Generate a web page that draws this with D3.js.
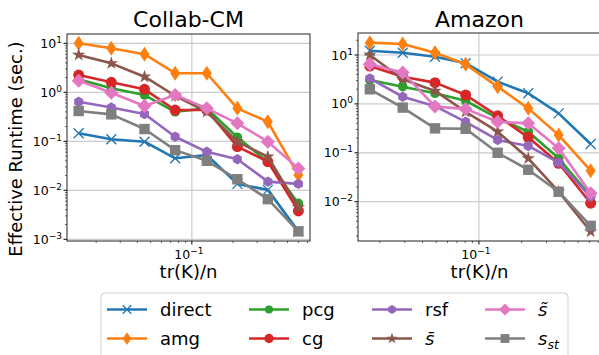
<!DOCTYPE html>
<html lang="en">
	<head>
		<meta charset="UTF-8" />
		<title>Effective runtime</title>
		<style>
			html,
			body {
				margin: 0;
				padding: 0;
				background: #fff;
				overflow: hidden;
			}
			svg {
				font-family: 'DejaVu Sans', sans-serif;
			}
		</style>
	</head>
	<body>
		<svg id="chart" width="599" height="355"></svg>

		<script src="https://d3js.org/d3.v7.min.js"></script>

		<script>
			// values
			const methods = ['direct', 'amg', 'pcg', 'cg', 'rsf', 'sbar', 'stilde', 'sst'];

			const collabX = [0.0149, 0.0258, 0.0451, 0.0755, 0.1286, 0.215, 0.359, 0.6];
			const collabDirect = [0.146, 0.11, 0.098, 0.045, 0.0525, 0.0135, 0.0102, 0.00145];
			const collabAmg = [10, 7.9, 6.0, 2.45, 2.45, 0.47, 0.25, 0.0205];
			const collabPcg = [1.84, 1.21, 0.88, 0.4, 0.47, 0.121, 0.038, 0.0054];
			const collabCg = [2.25, 1.6, 1.15, 0.435, 0.435, 0.078, 0.0384, 0.0038];
			const collabRsf = [0.64, 0.49, 0.36, 0.124, 0.061, 0.043, 0.015, 0.0135];
			const collabSbar = [5.8, 3.9, 2.08, 0.85, 0.4, 0.098, 0.0485, 0.0045];
			const collabStilde = [1.73, 0.98, 0.525, 0.88, 0.47, 0.233, 0.098, 0.028];
			const collabSst = [0.415, 0.355, 0.178, 0.066, 0.04, 0.0168, 0.0066, 0.00145];

			const amazonX = [0.017, 0.029, 0.049, 0.0806, 0.1355, 0.2228, 0.365, 0.614];
			const amazonDirect = [12.2, 11.1, 9.2, 6.8, 2.85, 1.65, 0.64, 0.151];
			const amazonAmg = [17.9, 16.8, 11.1, 6.45, 2.25, 0.81, 0.23, 0.043];
			const amazonPcg = [3.08, 2.25, 1.65, 1.16, 0.51, 0.27, 0.077, 0.013];
			const amazonCg = [5.96, 3.6, 2.72, 1.52, 0.57, 0.207, 0.061, 0.0093];
			const amazonRsf = [3.33, 1.4, 0.9, 0.43, 0.183, 0.138, 0.063, 0.0126];
			const amazonSbar = [10, 3.2, 1.84, 0.69, 0.27, 0.077, 0.016, 0.00245];
			const amazonStilde = [6.45, 4.4, 0.88, 0.79, 0.43, 0.4, 0.124, 0.0148];
			const amazonSst = [1.99, 0.84, 0.316, 0.31, 0.1, 0.045, 0.016, 0.0032];

			const colors = {
				direct: '#1f77b4',
				amg: '#ff7f0e',
				pcg: '#2ca02c',
				cg: '#d62728',
				rsf: '#9467bd',
				sbar: '#8c564b',
				stilde: '#e377c2',
				sst: '#7f7f7f'
			};

			const svg = d3.select('#chart');

			// marker shapes, centred on 0,0
			function drawMarker(g, m, color, s = 1) {
				if (m === 'direct') {
					const r = 5 * s;
					g.append('path')
						.attr('d', `M${-r},${-r}L${r},${r}M${-r},${r}L${r},${-r}`)
						.attr('stroke', color)
						.attr('stroke-width', 1.3)
						.attr('fill', 'none');
				} else if (m === 'amg') {
					const w = 5 * s,
						h = 7.5 * s;
					g.append('path').attr('d', `M0,${-h}L${w},0L0,${h}L${-w},0Z`).attr('fill', color);
				} else if (m === 'pcg') {
					g.append('circle').attr('r', 4.8 * s).attr('fill', color);
				} else if (m === 'cg') {
					g.append('circle').attr('r', 5.5 * s).attr('fill', color);
				} else if (m === 'rsf') {
					const r = 5.2 * s;
					const pts = d3.range(6).map((i) => {
						const a = (Math.PI / 3) * i - Math.PI / 2;
						return [r * Math.cos(a), r * Math.sin(a)];
					});
					g.append('path').attr('d', 'M' + pts.join('L') + 'Z').attr('fill', color);
				} else if (m === 'sbar') {
					g.append('path')
						.attr('d', d3.symbol(d3.symbolStar, 55 * s * s)())
						.attr('fill', color);
				} else if (m === 'stilde') {
					const r = 7 * s;
					g.append('path').attr('d', `M0,${-r}L${r},0L0,${r}L${-r},0Z`).attr('fill', color);
				} else if (m === 'sst') {
					const r = 5.2 * s;
					g.append('rect')
						.attr('x', -r)
						.attr('y', -r)
						.attr('width', 2 * r)
						.attr('height', 2 * r)
						.attr('fill', color);
				}
			}

			function powLabel(text, exp, x, y, anchor) {
				const t = svg
					.append('text')
					.attr('x', x)
					.attr('y', y)
					.attr('text-anchor', anchor)
					.attr('font-size', 12.5)
					.attr('fill', '#000');
				t.append('tspan').text('10');
				t.append('tspan')
					.attr('font-size', 9)
					.attr('dy', -5)
					.text(exp < 0 ? '\u2212' + -exp : String(exp));
			}

			function drawPanel(p) {
				const x = d3.scaleLog().domain(p.xDomain).range([p.left, p.right]);
				const y = d3.scaleLog().domain(p.yDomain).range([p.bottom, p.top]);
				const g = svg.append('g');

				const xDec = d3.range(Math.floor(Math.log10(p.xDomain[0])), Math.ceil(Math.log10(p.xDomain[1])) + 1);
				const yDec = d3.range(Math.floor(Math.log10(p.yDomain[0])), Math.ceil(Math.log10(p.yDomain[1])) + 1);
				const inX = (v) => v >= p.xDomain[0] && v <= p.xDomain[1];
				const inY = (v) => v >= p.yDomain[0] && v <= p.yDomain[1];

				const xMajor = xDec.map((d) => Math.pow(10, d)).filter(inX);
				const yMajor = yDec.map((d) => Math.pow(10, d)).filter(inY);
				const xMinor = [];
				xDec.forEach((d) => d3.range(2, 10).forEach((m) => xMinor.push(m * Math.pow(10, d))));
				const yMinor = [];
				yDec.forEach((d) => d3.range(2, 10).forEach((m) => yMinor.push(m * Math.pow(10, d))));

				// grid
				g.selectAll('.gx')
					.data(xMajor)
					.join('line')
					.attr('x1', (d) => x(d))
					.attr('x2', (d) => x(d))
					.attr('y1', p.top)
					.attr('y2', p.bottom)
					.attr('stroke', '#cccccc')
					.attr('stroke-width', 1.2);
				g.selectAll('.gy')
					.data(yMajor)
					.join('line')
					.attr('x1', p.left)
					.attr('x2', p.right)
					.attr('y1', (d) => y(d))
					.attr('y2', (d) => y(d))
					.attr('stroke', '#cccccc')
					.attr('stroke-width', 1.2);

				// series
				const line = d3
					.line()
					.x((d) => x(d[0]))
					.y((d) => y(d[1]));
				methods.forEach((m) => {
					const pts = p.x.map((xv, i) => [xv, p.series[m][i]]);
					g.append('path')
						.attr('d', line(pts))
						.attr('fill', 'none')
						.attr('stroke', colors[m])
						.attr('stroke-width', 2.6)
						.attr('stroke-linejoin', 'round');
					pts.forEach((d) => {
						const mg = g.append('g').attr('transform', `translate(${x(d[0])},${y(d[1])})`);
						drawMarker(mg, m, colors[m]);
					});
				});

				// ticks
				g.selectAll('.tx')
					.data(xMajor)
					.join('line')
					.attr('x1', (d) => x(d))
					.attr('x2', (d) => x(d))
					.attr('y1', p.bottom)
					.attr('y2', p.bottom + 3.5)
					.attr('stroke', '#000');
				g.selectAll('.mx')
					.data(xMinor.filter(inX))
					.join('line')
					.attr('x1', (d) => x(d))
					.attr('x2', (d) => x(d))
					.attr('y1', p.bottom)
					.attr('y2', p.bottom + 2)
					.attr('stroke', '#000')
					.attr('stroke-width', 0.6);
				g.selectAll('.ty')
					.data(yMajor)
					.join('line')
					.attr('x1', p.left - 3.5)
					.attr('x2', p.left)
					.attr('y1', (d) => y(d))
					.attr('y2', (d) => y(d))
					.attr('stroke', '#000');
				g.selectAll('.my')
					.data(yMinor.filter(inY))
					.join('line')
					.attr('x1', p.left - 2)
					.attr('x2', p.left)
					.attr('y1', (d) => y(d))
					.attr('y2', (d) => y(d))
					.attr('stroke', '#000')
					.attr('stroke-width', 0.6);

				// frame
				g.append('rect')
					.attr('x', p.left)
					.attr('y', p.top)
					.attr('width', p.right - p.left)
					.attr('height', p.bottom - p.top)
					.attr('fill', 'none')
					.attr('stroke', '#222')
					.attr('stroke-width', 1);

				xMajor.forEach((v) => powLabel(v, Math.round(Math.log10(v)), x(v) - 3, p.bottom + 18, 'middle'));
				yMajor.forEach((v) => powLabel(v, Math.round(Math.log10(v)), p.left - 5, y(v) + 4.5, 'end'));

				svg.append('text')
					.attr('x', (p.left + p.right) / 2)
					.attr('y', 27)
					.attr('text-anchor', 'middle')
					.attr('font-size', 22)
					.text(p.title);
				svg.append('text')
					.attr('x', (p.left + p.right) / 2)
					.attr('y', 278)
					.attr('text-anchor', 'middle')
					.attr('font-size', 18)
					.text('tr(K)/n');
			}

			drawPanel({
				title: 'Collab-CM',
				left: 67,
				right: 310,
				top: 34,
				bottom: 241,
				xDomain: [Math.pow(10, -1.912), Math.pow(10, -0.137)],
				yDomain: [Math.pow(10, -3.035), Math.pow(10, 1.19)],
				x: collabX,
				series: {
					direct: collabDirect,
					amg: collabAmg,
					pcg: collabPcg,
					cg: collabCg,
					rsf: collabRsf,
					sbar: collabSbar,
					stilde: collabStilde,
					sst: collabSst
				}
			});

			drawPanel({
				title: 'Amazon',
				left: 358,
				right: 601,
				top: 33,
				bottom: 241,
				xDomain: [Math.pow(10, -1.853), Math.pow(10, -0.139)],
				yDomain: [Math.pow(10, -2.804), Math.pow(10, 1.45)],
				x: amazonX,
				series: {
					direct: amazonDirect,
					amg: amazonAmg,
					pcg: amazonPcg,
					cg: amazonCg,
					rsf: amazonRsf,
					sbar: amazonSbar,
					stilde: amazonStilde,
					sst: amazonSst
				}
			});

			svg.append('text')
				.attr('transform', 'translate(22,149) rotate(-90)')
				.attr('text-anchor', 'middle')
				.attr('font-size', 18)
				.text('Effective Runtime (sec.)');

			// legend
			const legend = svg.append('g');
			legend
				.append('rect')
				.attr('x', 101)
				.attr('y', 293)
				.attr('width', 467)
				.attr('height', 70)
				.attr('rx', 4)
				.attr('fill', '#fff')
				.attr('stroke', '#d0d0d0');

			const colX = [107, 249, 372, 485];
			const rowY = [309.5, 338.5];
			methods.forEach((m, i) => {
				const cx = colX[Math.floor(i / 2)];
				const cy = rowY[i % 2];
				const lg = legend.append('g').attr('transform', `translate(${cx},${cy})`);
				lg.append('line')
					.attr('x1', 0)
					.attr('x2', 40)
					.attr('stroke', colors[m])
					.attr('stroke-width', 2.6);
				const mg = lg.append('g').attr('transform', 'translate(20,0)');
				drawMarker(mg, m, colors[m], 0.85);
				const t = lg.append('text').attr('x', 53).attr('y', 6.5).attr('font-size', 18);
				if (m === 'sbar') {
					t.append('tspan').attr('font-style', 'italic').text('s\u0304');
				} else if (m === 'stilde') {
					t.append('tspan').attr('font-style', 'italic').text('s\u0303');
				} else if (m === 'sst') {
					t.append('tspan').attr('font-style', 'italic').text('s');
					t.append('tspan').attr('font-style', 'italic').attr('font-size', 12.5).attr('dy', 4).text('st');
				} else {
					t.text(m);
				}
			});
		</script>
	</body>
</html>
